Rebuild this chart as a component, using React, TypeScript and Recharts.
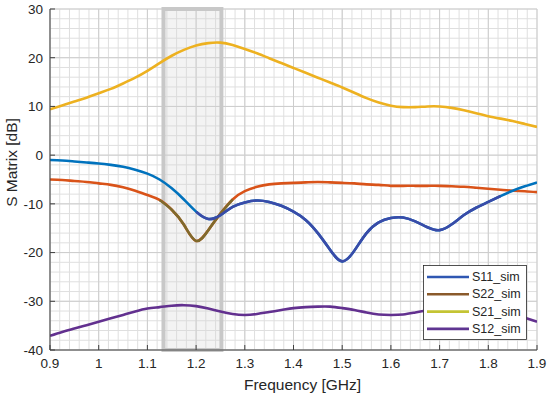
import React from 'react';
import {
  LineChart,
  Line,
  XAxis,
  YAxis,
  CartesianGrid,
  ReferenceArea,
} from 'recharts';

// Frequency samples [GHz]
const freqs = [
  0.9, 0.925, 0.95, 0.975, 1.0, 1.025, 1.05, 1.075, 1.1, 1.125, 1.15, 1.175, 1.2, 1.225,
  1.25, 1.275, 1.3, 1.325, 1.35, 1.375, 1.4, 1.425, 1.45, 1.475, 1.5, 1.525, 1.55, 1.575,
  1.6, 1.625, 1.65, 1.675, 1.7, 1.725, 1.75, 1.775, 1.8, 1.825, 1.85, 1.875, 1.9,
];

// S21 [dB]
const s21 = [
  9.4, 10.2, 11.0, 11.8, 12.7, 13.6, 14.7, 15.9, 17.3, 18.9, 20.4, 21.6, 22.5, 23.0,
  23.1, 22.6, 21.8, 20.9, 19.9, 18.9, 17.9, 16.9, 15.9, 14.9, 13.9, 12.8, 11.7, 10.8,
  10.15, 9.85, 9.85, 10.0, 10.0, 9.7, 9.2, 8.6, 8.0, 7.5, 7.0, 6.4, 5.8,
];

// S11 [dB]
const s11 = [
  -1.0, -1.1, -1.3, -1.5, -1.7, -2.0, -2.4, -3.0, -3.8, -5.0, -6.8, -9.1, -11.6, -13.1,
  -12.3, -10.6, -9.7, -9.3, -9.6, -10.4, -11.6, -13.3, -16.0, -19.4, -21.8, -19.6, -16.0, -13.8,
  -12.9, -12.8, -13.6, -14.8, -15.4, -14.2, -12.3, -10.8, -9.6, -8.4, -7.3, -6.4, -5.6,
];

// S22 [dB]
const s22 = [
  -5.0, -5.1, -5.3, -5.5, -5.8, -6.1, -6.6, -7.3, -8.2, -9.2, -11.2, -14.3, -17.6, -15.4,
  -12.0, -9.1, -7.4, -6.5, -6.0, -5.8, -5.7, -5.6, -5.5, -5.6, -5.7, -5.8, -6.0, -6.1,
  -6.3, -6.3, -6.3, -6.3, -6.3, -6.4, -6.5, -6.7, -6.9, -7.1, -7.3, -7.4, -7.6,
];

// S12 [dB]
const s12 = [
  -37.1, -36.3, -35.6, -34.9, -34.2, -33.5, -32.8, -32.1, -31.5, -31.2, -30.9, -30.8, -31.0, -31.5,
  -32.1, -32.6, -32.8, -32.6, -32.2, -31.8, -31.4, -31.2, -31.1, -31.1, -31.4, -31.8, -32.3, -32.7,
  -32.8, -32.7, -32.3, -31.9, -31.6, -31.3, -31.2, -31.3, -31.7, -32.2, -32.7, -33.4, -34.2,
];

const xTicks = [0.9, 1, 1.1, 1.2, 1.3, 1.4, 1.5, 1.6, 1.7, 1.8, 1.9];
const yTicks = [-40, -30, -20, -10, 0, 10, 20, 30];
const xDomain = [0.9, 1.9];
const yDomain = [-40, 30];

const bandStart = 1.133;
const bandEnd = 1.252;

const legendNames = ['S11_sim', 'S22_sim', 'S21_sim', 'S12_sim'];
const legendColors = ['#2f57b2', '#8a5a2b', '#c4c434', '#5f3592'];

// minor grid: 5 subdivisions per major step
const minorX: number[] = [];
for (let i = 0; i <= 50; i++) minorX.push(xDomain[0] + (i * (xDomain[1] - xDomain[0])) / 50);
const minorY: number[] = [];
for (let i = 0; i <= 35; i++) minorY.push(yDomain[0] + (i * (yDomain[1] - yDomain[0])) / 35);

const data = freqs.map((f, i) => ({
  f,
  s21: s21[i],
  s11: s11[i],
  s22: s22[i],
  s12: s12[i],
  s11sim: f >= 1.2 && f <= 1.825 ? s11[i] : null,
  s22sim: f >= 1.125 && f <= 1.275 ? s22[i] : null,
}));

const FONT = '"Liberation Sans", Arial, Helvetica, sans-serif';
const TXT = '#262626';

const minorVertical = ({ offset }: any) =>
  minorX.map((v) => offset.left + ((v - xDomain[0]) / (xDomain[1] - xDomain[0])) * offset.width);
const minorHorizontal = ({ offset }: any) =>
  minorY.map((v) => offset.top + ((yDomain[1] - v) / (yDomain[1] - yDomain[0])) * offset.height);

const XLabel = (props: any) => {
  const vb = props.viewBox || {};
  const cx = vb.x + vb.width / 2 + 9;
  return (
    <text x={cx} y={390} textAnchor="middle" fontFamily={FONT} fontSize={15.5} fill={TXT}>
      Frequency [GHz]
    </text>
  );
};

const YLabel = (props: any) => {
  const vb = props.viewBox || {};
  const cx = 17;
  const cy = vb.y + vb.height / 2 - 17;
  return (
    <text
      x={cx}
      y={cy}
      transform={`rotate(-90 ${cx} ${cy})`}
      textAnchor="middle"
      fontFamily={FONT}
      fontSize={15.5}
      fill={TXT}
    >
      S Matrix [dB]
    </text>
  );
};

export default function App() {
  return (
    <div style={{ position: 'absolute', left: 0, top: 0, width: 550, height: 397, background: '#fff' }}>
      <LineChart
        width={550}
        height={397}
        data={data}
        margin={{ top: 9, right: 13, left: 0, bottom: 0 }}
      >
        <CartesianGrid
          verticalCoordinatesGenerator={minorVertical}
          horizontalCoordinatesGenerator={minorHorizontal}
          stroke="#dfdfdf"
          strokeWidth={1}
        />
        <CartesianGrid stroke="#cdcdcd" strokeWidth={1} />
        <XAxis
          dataKey="f"
          type="number"
          domain={xDomain}
          ticks={xTicks}
          allowDataOverflow
          height={47}
          tickSize={-5}
          tickMargin={13}
          tickFormatter={(v: number) => String(v)}
          tick={{ fontSize: 13.5, fill: TXT, fontFamily: FONT }}
          axisLine={{ stroke: '#404040' }}
          tickLine={{ stroke: '#404040' }}
          label={<XLabel />}
        />
        <XAxis
          xAxisId="top"
          orientation="top"
          dataKey="f"
          type="number"
          domain={xDomain}
          ticks={xTicks}
          height={0}
          tickSize={-5}
          tick={false}
          axisLine={{ stroke: '#c8c8c8' }}
          tickLine={{ stroke: '#555' }}
        />
        <YAxis
          type="number"
          domain={yDomain}
          ticks={yTicks}
          allowDataOverflow
          width={50}
          tickSize={-5}
          tickMargin={12}
          tick={{ fontSize: 13.5, fill: TXT, fontFamily: FONT }}
          axisLine={{ stroke: '#404040' }}
          tickLine={{ stroke: '#404040' }}
          label={<YLabel />}
        />
        <YAxis
          yAxisId="right"
          orientation="right"
          type="number"
          domain={yDomain}
          ticks={yTicks}
          width={0}
          tickSize={-5}
          tick={false}
          axisLine={{ stroke: '#8c8c8c' }}
          tickLine={{ stroke: '#555' }}
        />
        <ReferenceArea
          x1={bandStart}
          x2={bandEnd}
          y1={-40}
          y2={30}
          fill="#d4d4d4"
          fillOpacity={0.28}
          stroke="#c8c8c8"
          strokeWidth={4}
        />
        <Line type="natural" dataKey="s21" stroke="#EDB120" strokeWidth={2.6} dot={false} isAnimationActive={false} />
        <Line type="natural" dataKey="s12" stroke="#62308f" strokeWidth={2.6} dot={false} isAnimationActive={false} />
        <Line type="natural" dataKey="s22" stroke="#D95319" strokeWidth={2.6} dot={false} isAnimationActive={false} />
        <Line type="natural" dataKey="s11" stroke="#0072BD" strokeWidth={2.6} dot={false} isAnimationActive={false} />
        <Line type="natural" dataKey="s22sim" stroke="#7f6a2c" strokeWidth={2.6} dot={false} connectNulls={false} isAnimationActive={false} />
        <Line type="natural" dataKey="s11sim" stroke="#3a4ba8" strokeWidth={2.6} dot={false} connectNulls={false} isAnimationActive={false} />
      </LineChart>
      <svg
        width={550}
        height={397}
        style={{ position: 'absolute', left: 0, top: 0, pointerEvents: 'none' }}
      >
        <rect x={423.5} y={265.5} width={103} height={74} fill="#fff" stroke="#262626" strokeWidth={0.8} />
        {legendNames.map((name, i) => (
          <g key={name}>
            <line
              x1={427}
              x2={469}
              y1={277 + i * 17.3}
              y2={277 + i * 17.3}
              stroke={legendColors[i]}
              strokeWidth={2.6}
            />
            <text
              x={472}
              y={277 + i * 17.3}
              dominantBaseline="central"
              fontFamily={FONT}
              fontSize={12.5}
              fill={TXT}
            >
              {name}
            </text>
          </g>
        ))}
      </svg>
    </div>
  );
}
